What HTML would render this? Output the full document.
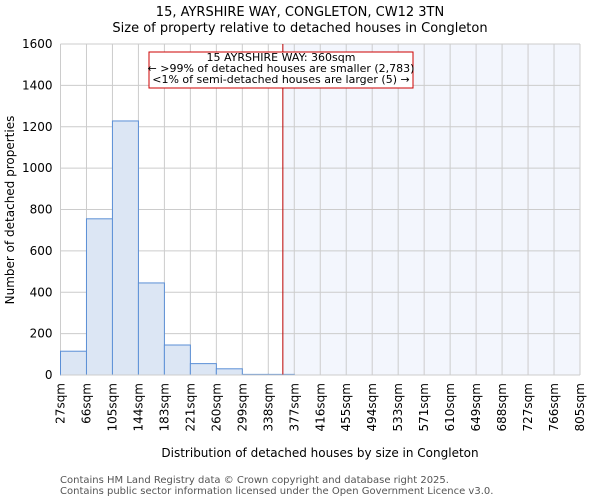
<!DOCTYPE html>
<html><head><meta charset="utf-8"><style>
body{margin:0;background:#fff;font-family:"DejaVu Sans","Liberation Sans",sans-serif}
</style></head><body>
<svg width="600" height="500" xmlns="http://www.w3.org/2000/svg" font-family="DejaVu Sans, Liberation Sans, sans-serif">
<text x="300" y="16" font-size="13" text-anchor="middle">15, AYRSHIRE WAY, CONGLETON, CW12 3TN</text>
<text x="300" y="32" font-size="13" text-anchor="middle">Size of property relative to detached houses in Congleton</text>
<g id="plot"></g>
<text x="14" y="210" font-size="12" text-anchor="middle" transform="rotate(-90 14 210)">Number of detached properties</text>
<text x="320" y="457" font-size="12" text-anchor="middle">Distribution of detached houses by size in Congleton</text>
<text x="60" y="483" font-size="10" fill="#555">Contains HM Land Registry data © Crown copyright and database right 2025.</text>
<text x="60" y="494" font-size="10" fill="#555">Contains public sector information licensed under the Open Government Licence v3.0.</text>
</svg>
<script>
const binLabels=["27sqm","66sqm","105sqm","144sqm","183sqm","221sqm","260sqm","299sqm","338sqm","377sqm","416sqm","455sqm","494sqm","533sqm","571sqm","610sqm","649sqm","688sqm","727sqm","766sqm","805sqm"];
const counts=[115,755,1228,445,145,55,30,3,3,0,0,0,0,0,0,0,0,0,0,0];
const yTicks=[0,200,400,600,800,1000,1200,1400,1600];
const propertyIndex=8.56;
const NS="http://www.w3.org/2000/svg";
const X0=60.5,X1=580,Y0=375,Y1=44,YMAX=1600;
const bw=(X1-X0)/counts.length;
const xs=i=>X0+i*bw, ys=v=>Y0-(v/YMAX)*(Y0-Y1);
const g=document.getElementById('plot');
function mk(t,a){const e=document.createElementNS(NS,t);for(const k in a)e.setAttribute(k,a[k]);g.appendChild(e);return e;}
const px=xs(propertyIndex);
let e=mk('rect',{x:px,y:Y1,width:X1-px,height:Y0-Y1,fill:'#f3f6fd'});


yTicks.forEach(t=>{
 let l=mk('line',{x1:X0,x2:X1,y1:ys(t),y2:ys(t),stroke:'#ccc'});
 
 
 let tx=mk('text',{x:X0-8,y:ys(t)+4,'font-size':12,'text-anchor':'end'});tx.textContent=t;
 
 
});
binLabels.forEach((s,i)=>{
 let l=mk('line',{x1:xs(i),x2:xs(i),y1:Y1,y2:Y0,stroke:'#ccc'});
 
 
 let x=xs(i)+4,y=Y0+8;
 let tx=mk('text',{x:x,y:y,'font-size':12,'text-anchor':'end',transform:`rotate(-90 ${x} ${y})`});tx.textContent=s;
 
 
});
counts.forEach((c,i)=>{
 if(c<=0)return;
 let r=mk('rect',{x:xs(i),y:ys(c),width:bw,height:Y0-ys(c),fill:'#dce6f4',stroke:'#5b8fd6','stroke-width':1});
 
 
});
let rl=mk('line',{x1:px,x2:px,y1:Y1,y2:Y0,stroke:'#b00','stroke-width':1});


let ax=mk('line',{x1:X0,x2:X1,y1:Y0,y2:Y0,stroke:'#ccc'});


let box=mk('rect',{x:149,y:52,width:264,height:36,fill:'#fff',stroke:'#c00','stroke-width':1});


["15 AYRSHIRE WAY: 360sqm","← >99% of detached houses are smaller (2,783)","<1% of semi-detached houses are larger (5) →"].forEach((s,i)=>{
 let t=mk('text',{x:281,y:61+i*11,'font-size':11,'text-anchor':'middle'});t.textContent=s;
 
 
});
</script>
</body></html>
